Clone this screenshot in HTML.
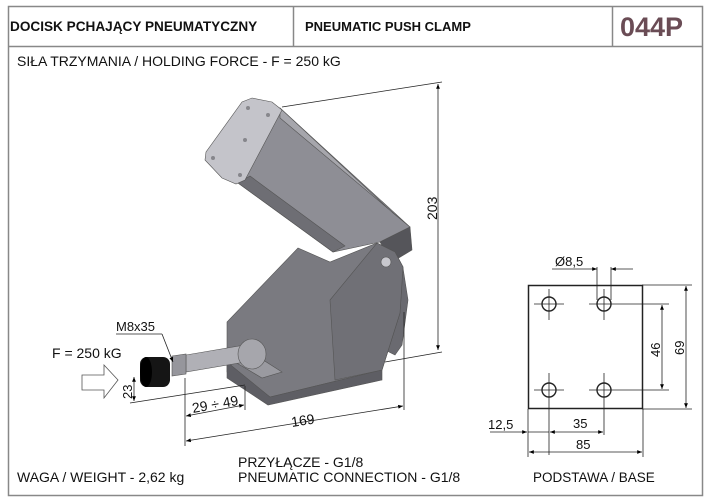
<!DOCTYPE html>
<html><head><meta charset="utf-8"><style>
html,body{margin:0;padding:0;background:#fff;}
svg{display:block;font-family:"Liberation Sans",Arial,sans-serif;}
</style></head><body>
<svg width="710" height="503" viewBox="0 0 710 503" xmlns="http://www.w3.org/2000/svg">
<defs>
<marker id="a" viewBox="0 0 10 10" refX="10" refY="5" markerWidth="9" markerHeight="6" orient="auto-start-reverse"><path d="M0,1 L10,5 L0,9 z" fill="#000"/></marker>
</defs>
<rect x="0" y="0" width="710" height="503" fill="#fff"/>
<rect x="8.5" y="6.5" width="694" height="489" fill="none" stroke="#888" stroke-width="1.5"/>
<line x1="8" y1="46.5" x2="702" y2="46.5" stroke="#888" stroke-width="1.5"/>
<line x1="293.5" y1="6" x2="293.5" y2="46" stroke="#888" stroke-width="1.5"/>
<line x1="612.5" y1="6" x2="612.5" y2="46" stroke="#888" stroke-width="1.5"/>
<text x="10" y="31" font-size="13.6" font-weight="bold" fill="#111">DOCISK PCHAJĄCY PNEUMATYCZNY</text>
<text x="305" y="31" font-size="13" font-weight="bold" fill="#111">PNEUMATIC PUSH CLAMP</text>
<text x="620" y="36" font-size="27" font-weight="bold" fill="#6a4c55">044P</text>
<text x="17" y="66" font-size="14" fill="#111">SIŁA TRZYMANIA / HOLDING FORCE - F = 250 kG</text>

<g stroke="#555" stroke-width="0.6">
<polygon points="393,255 403,268 408,300 402,345 395,355 385,350" fill="#6a6a70"/>
<polygon points="280,108 410,227 380,242 333,252 238,183" fill="#8e8e95"/>
<polygon points="280,108 393,213 410,227 280,118" fill="#a6a6ac"/>
<polygon points="238,183 333,252 345,246 250,176" fill="#6e6e74"/>
<polygon points="380,242 410,227 412,250 392,262" fill="#55555a"/>
<polygon points="252,98 272,102 282,110 245,180 236,184 222,178 205,160 206,152 242,102" fill="#c4c4ca"/>
<polygon points="377,243 395,252 403,267 400,313 382,370 270,397 227,372 227,322 298,248 330,262" fill="#7a7a80"/>
<polygon points="377,243 395,252 403,267 400,313 382,370 335,380 330,300" fill="#707076"/>
<polygon points="227,362 270,397 382,370 382,380 268,405 227,378" fill="#5e5e64"/>
<polygon points="235,362 262,378 282,372 260,358" fill="#9a9aa0"/>
<polygon points="186,355 245,345 245,362 186,372" fill="#b0b0b6"/>
<ellipse cx="252" cy="354" rx="14" ry="15" fill="#a6a6ac"/>
<polygon points="172,356 186,354 186,374 172,376" fill="#96969c"/>
<circle cx="386" cy="262" r="5" fill="#c8c8ce"/>
</g>
<g fill="#4a4a4e" opacity="0.5">
<circle cx="248" cy="108" r="2"/><circle cx="268" cy="115" r="2"/><circle cx="245" cy="140" r="2"/><circle cx="213" cy="158" r="2"/><circle cx="240" cy="175" r="2"/>
</g>
<rect x="140" y="357" width="30" height="30" rx="7" fill="#151515"/>
<ellipse cx="146" cy="372" rx="6" ry="15" fill="#000"/>

<g stroke="#222" stroke-width="0.8" fill="none">
<line x1="282" y1="107" x2="442" y2="82"/>
<line x1="385" y1="362" x2="442" y2="352"/>
<line x1="438" y1="84" x2="438" y2="350" marker-start="url(#a)" marker-end="url(#a)"/>
<line x1="185" y1="378" x2="185" y2="446"/>
<line x1="404" y1="312" x2="404" y2="410"/>
<line x1="186" y1="441" x2="403" y2="406" marker-start="url(#a)" marker-end="url(#a)"/>
<line x1="245" y1="386" x2="245" y2="410"/>
<line x1="186" y1="416" x2="244" y2="405" marker-start="url(#a)" marker-end="url(#a)"/>
<line x1="130" y1="403" x2="245" y2="385"/>
<line x1="134" y1="377" x2="134" y2="401" marker-start="url(#a)" marker-end="url(#a)"/>
<line x1="116" y1="334" x2="162" y2="334"/>
<line x1="162" y1="334" x2="173" y2="362" marker-end="url(#a)"/>
</g>
<polygon points="82,375 104,375 104,365 118,380 104,398 104,390 82,390" fill="#fff" stroke="#555" stroke-width="0.8"/>
<text x="52" y="358" font-size="14" fill="#111">F = 250 kG</text>
<text x="116" y="331" font-size="13" fill="#111">M8x35</text>
<text transform="translate(132,399) rotate(-90)" font-size="13" fill="#111">23</text>
<text transform="translate(193,413) rotate(-10)" font-size="14" fill="#111">29 ÷ 49</text>
<text transform="translate(292,427) rotate(-9)" font-size="14" fill="#111">169</text>
<text transform="translate(437,220) rotate(-90)" font-size="14" fill="#111">203</text>

<g stroke="#222" stroke-width="0.8" fill="none">
<rect x="528.5" y="285.5" width="114" height="123" stroke-width="1.5"/>
<line x1="534" y1="304" x2="564" y2="304"/><line x1="549" y1="289" x2="549" y2="320"/>
<line x1="589" y1="304" x2="669" y2="304"/><line x1="604" y1="289" x2="604" y2="320"/>
<line x1="534" y1="390" x2="564" y2="390"/><line x1="549" y1="373" x2="549" y2="455"/>
<line x1="589" y1="390" x2="669" y2="390"/><line x1="604" y1="373" x2="604" y2="435"/>
<line x1="642" y1="285" x2="692" y2="285"/><line x1="642" y1="409" x2="692" y2="409"/>
<line x1="528" y1="409" x2="528" y2="457"/><line x1="643" y1="409" x2="643" y2="457"/>
<line x1="597" y1="267" x2="597" y2="300"/><line x1="611" y1="267" x2="611" y2="300"/>
<line x1="552" y1="269" x2="597" y2="269" marker-end="url(#a)"/>
<line x1="633" y1="269" x2="611" y2="269" marker-end="url(#a)"/>
<line x1="662" y1="305" x2="662" y2="389" marker-start="url(#a)" marker-end="url(#a)"/>
<line x1="686" y1="286" x2="686" y2="408" marker-start="url(#a)" marker-end="url(#a)"/>
<line x1="490" y1="432" x2="527" y2="432" marker-end="url(#a)"/>
<line x1="528" y1="432" x2="549" y2="432"/>
<line x1="550" y1="432" x2="603" y2="432" marker-start="url(#a)" marker-end="url(#a)"/>
<line x1="529" y1="452" x2="642" y2="452" marker-start="url(#a)" marker-end="url(#a)"/>
<circle cx="549" cy="304" r="7" stroke-width="1.4"/>
<circle cx="604" cy="304" r="7" stroke-width="1.4"/>
<circle cx="549" cy="390" r="7" stroke-width="1.4"/>
<circle cx="604" cy="390" r="7" stroke-width="1.4"/>
</g>
<text x="555" y="266" font-size="13" fill="#111">Ø8,5</text>
<text transform="translate(660,357) rotate(-90)" font-size="13" fill="#111">46</text>
<text transform="translate(684,355) rotate(-90)" font-size="13" fill="#111">69</text>
<text x="488" y="429" font-size="13" fill="#111">12,5</text>
<text x="573" y="428" font-size="13" fill="#111">35</text>
<text x="576" y="449" font-size="13" fill="#111">85</text>
<text x="533" y="482" font-size="13.5" fill="#111">PODSTAWA / BASE</text>

<text x="17" y="482" font-size="14" fill="#111">WAGA / WEIGHT - 2,62 kg</text>
<text x="238" y="467" font-size="14" fill="#111">PRZYŁĄCZE - G1/8</text>
<text x="238" y="482" font-size="14" fill="#111">PNEUMATIC CONNECTION - G1/8</text>
</svg>
</body></html>
